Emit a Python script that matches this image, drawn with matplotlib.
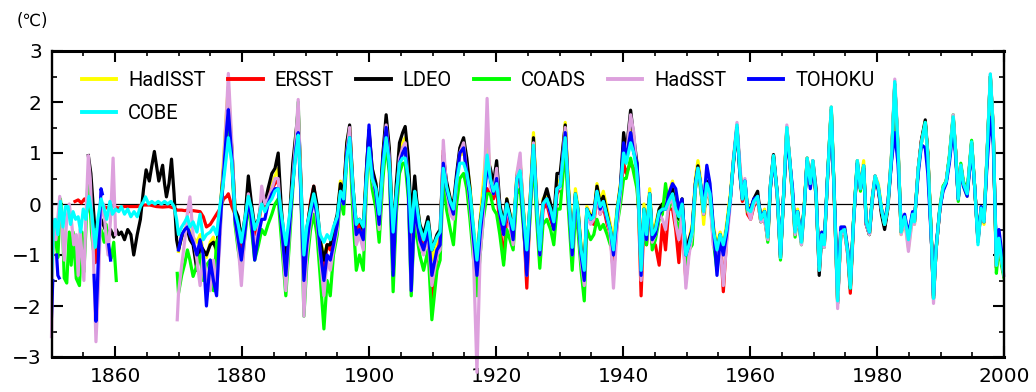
import matplotlib
matplotlib.use("Agg")
import matplotlib.pyplot as plt
from matplotlib.ticker import MultipleLocator, FixedLocator
from matplotlib.font_manager import FontProperties

nan = float("nan")

# ---------------- data ----------------
years_common = [
    1870.0, 1870.5, 1871.0, 1871.4, 1871.8, 1872.3, 1872.9, 1873.4, 1873.9, 1874.4, 1875.0, 1875.5, 1876.0, 1876.5, 1877.1, 1877.6, 1877.85, 1878.4, 1878.9, 1879.4, 1879.9,
    1880.5, 1881.0, 1881.5, 1882.0, 1882.6, 1883.1, 1883.6, 1884.1, 1884.7, 1885.2, 1885.7, 1886.2, 1886.9, 1887.5, 1888.0, 1888.5, 1888.85, 1889.3, 1889.75,
    1890.2, 1890.8, 1891.3, 1891.8, 1892.3, 1892.9, 1893.4, 1893.9, 1894.4, 1895.0, 1895.5, 1896.0, 1896.5, 1896.95, 1897.5, 1898.0, 1898.5, 1899.1, 1899.6,
    1900.0, 1900.5, 1901.1, 1901.6, 1902.2, 1902.7, 1903.2, 1903.8, 1904.3, 1904.8, 1905.3, 1905.7, 1906.2, 1906.65, 1907.2, 1907.5, 1908.0, 1908.6, 1909.3, 1909.9,
    1910.7, 1911.2, 1911.7, 1912.2, 1912.8, 1913.3, 1913.8, 1914.3, 1914.9, 1915.4, 1915.9, 1916.4, 1917.0, 1917.5, 1918.0, 1918.6, 1919.1, 1919.6,
    1920.1, 1920.6, 1921.2, 1921.7, 1922.2, 1922.7, 1923.3, 1923.8, 1924.4, 1924.85, 1925.3, 1925.9, 1926.4, 1926.9, 1927.4, 1928.0, 1928.6, 1929.1, 1929.6,
    1930.1, 1930.9, 1931.4, 1932.0, 1932.5, 1932.9, 1933.4, 1933.9, 1934.3, 1934.9, 1935.4, 1935.9, 1936.4, 1936.9, 1937.5, 1938.0, 1938.5, 1939.1, 1939.6,
    1940.1, 1940.5, 1941.2, 1941.7, 1942.2, 1942.45, 1942.85, 1943.3, 1943.7, 1944.2, 1944.6, 1945.1, 1945.7, 1946.2, 1946.7, 1947.2, 1947.8, 1948.3, 1948.8, 1949.3, 1949.9,
    1950.4, 1950.9, 1951.4, 1951.8, 1952.2, 1952.7, 1953.2, 1953.7, 1954.2, 1954.8, 1955.3, 1955.8, 1956.3, 1956.9, 1957.4, 1957.95, 1958.4, 1958.8, 1959.2, 1959.6,
    1960.1, 1960.6, 1961.2, 1961.7, 1962.3, 1962.8, 1963.2, 1963.7, 1964.3, 1964.8, 1965.3, 1965.8, 1966.2, 1966.7, 1967.1, 1967.5, 1968.1, 1968.6, 1969.0, 1969.5, 1969.9,
    1970.4, 1970.9, 1971.3, 1971.7, 1972.2, 1972.8, 1973.3, 1973.8, 1974.3, 1974.9, 1975.4, 1975.8, 1976.3, 1976.9, 1977.4, 1977.9, 1978.3, 1978.8, 1979.3, 1979.7,
    1980.2, 1980.7, 1981.2, 1981.7, 1982.3, 1982.8, 1983.3, 1983.8, 1984.35, 1984.95, 1985.6, 1985.9, 1986.5, 1987.0, 1987.6, 1988.0, 1988.6, 1988.9, 1989.3, 1989.9,
    1990.4, 1990.9, 1991.4, 1992.0, 1992.4, 1992.8, 1993.2, 1993.6, 1994.2, 1994.9, 1995.4, 1995.9, 1996.4, 1996.85, 1997.3, 1997.85, 1998.3, 1998.8, 1999.2, 1999.6, 2000.0,
]

hadisst = [
    -0.93, -0.6, -0.5, -0.4, -0.55, -0.65, -0.75, -0.6, -0.95, -1.05, -0.75, -0.65, -1.0, -0.3, 0.9, 1.9, 2.3, 1.1, -0.1, -0.5, -0.9,
    -0.3, 0.4, -0.1, -0.6, -0.4, 0.0, -0.05, 0.25, 0.4, 0.55, 0.7, -0.2, -1.1, -0.3, 0.6, 1.35, 1.8, 0.3, -1.6,
    -0.6, 0.0, 0.2, -0.1, -0.7, -1.0, -0.8, -0.9, -0.6, -0.3, 0.45, 0.2, 1.2, 1.5, 0.3, -0.45, -0.3, -0.5, 0.7,
    1.4, 0.7, 0.35, -0.2, 1.0, 1.6, 1.0, -0.8, 0.3, 1.1, 1.2, 1.3, 0.7, -0.55, 0.35, 0.05, -0.4, -0.75, -0.3, -1.1,
    -0.75, -0.6, 0.9, 0.4, 0.1, -0.1, 0.5, 0.95, 1.0, 0.8, 0.35, -0.4, -1.1, -0.3, 0.4, 1.32, 0.6, 0.3,
    0.6, -0.1, -0.5, 0.1, -0.2, -0.55, 0.6, 0.85, -0.2, -1.0, -0.1, 1.4, 0.1, -0.9, 0.1, 0.2, -0.05, -0.3, 0.45,
    0.45, 1.6, 0.4, -0.8, 0.3, -0.05, -0.8, -1.2, -0.05, -0.2, -0.2, 0.4, 0.05, 0.25, -0.1, -0.4, -0.7, -0.05, 0.4,
    0.9, 0.8, 1.45, 1.2, 0.7, 0.2, -1.3, 0.0, -0.5, 0.3, -0.5, -0.4, -0.1, 0.0, 0.0, 0.2, 0.45, 0.0, -0.2, 0.1, -1.0,
    -0.7, -0.4, 0.5, 0.85, 0.5, -0.4, 0.35, 0.3, -0.4, -0.8, -0.55, -0.8, -0.4, 0.2, 0.9, 1.5, 0.7, 0.2, 0.4, 0.0,
    -0.1, 0.1, 0.15, -0.25, -0.1, -0.6, 0.35, 0.95, 0.2, -1.0, 0.2, 1.45, 0.95, 0.2, -0.5, -0.1, -0.7, 0.1, 0.9, 0.4, 0.8,
    0.2, -1.25, -0.55, -0.75, 0.5, 1.85, 0.1, -1.85, -0.5, -0.45, -0.9, -1.6, -0.3, 0.85, 0.35, 0.85, -0.3, -0.5, 0.2, 0.55,
    0.4, -0.05, -0.35, 0.0, 0.95, 2.25, 1.2, -0.6, -0.3, -0.85, -0.25, -0.4, 0.65, 1.2, 1.55, 1.0, -0.75, -1.8, -0.9, -0.1,
    0.3, 0.45, 0.9, 1.7, 1.0, 0.15, 0.7, 0.35, 0.15, 1.2, 0.3, -0.7, -0.1, -0.4, 0.8, 2.45, 1.4, -1.2, -0.8, -1.1, -1.4,
]

ersst_early_years = [1853.7, 1854.2, 1854.7, 1855.2, 1855.7, 1856.2, 1856.6, 1856.9, 1857.3, 1857.7, 1858.2, 1858.8,
                     1859.5, 1860.5, 1861.5, 1862.5, 1863.5, 1864.5, 1865.5, 1866.5, 1867.5, 1868.5, 1869.3, 1869.8]
ersst_early = [0.05, 0.08, 0.02, 0.1, 0.0, -0.2, -0.6, -1.15, -0.7, -0.15, -0.05, -0.08,
               -0.03, -0.08, -0.05, -0.05, -0.05, -0.02, -0.02, -0.05, -0.06, -0.05, -0.08, -0.12]
ersst = [
    -0.12, -0.12, -0.13, -0.12, -0.15, -0.13, -0.14, -0.15, -0.25, -0.45, -0.4, -0.3, -0.2, -0.1, 0.1, 0.15, 0.2, -0.05, -0.2, -0.5, -0.9,
    -0.35, 0.3, -0.15, -0.6, -0.4, 0.05, -0.1, 0.2, 0.3, 0.4, 0.5, -0.5, -1.3, -0.35, 0.5, 1.2, 1.6, 0.2, -1.5,
    -0.6, 0.05, 0.35, -0.1, -0.8, -1.3, -0.8, -0.9, -0.7, -0.3, 0.3, 0.1, 1.1, 1.4, 0.2, -0.5, -0.4, -0.6, 0.6,
    1.4, 0.6, 0.25, -0.35, 0.8, 1.5, 0.9, -1.0, 0.1, 0.9, 1.1, 1.1, 0.5, -1.0, 0.2, 0.0, -0.6, -0.9, -0.5, -1.9,
    -1.0, -0.7, 1.05, 0.3, 0.0, -0.2, 0.5, 1.0, 1.15, 0.6, 0.1, -0.7, -1.5, -0.6, -0.1, 0.3, 0.2, 0.1,
    0.3, -0.4, -1.1, -0.2, -0.4, -0.8, 0.4, 0.7, -0.5, -1.65, -0.3, 1.1, -0.1, -1.1, -0.1, 0.0, -0.3, -0.5, 0.2,
    0.3, 1.4, 0.1, -1.0, 0.1, -0.2, -1.0, -1.4, -0.2, -0.35, -0.4, 0.2, -0.2, -0.05, -0.4, -0.6, -1.4, -0.3, 0.2,
    0.8, 0.6, 0.8, 0.7, 0.4, -0.1, -1.8, -0.3, -0.8, 0.0, -0.8, -0.8, -1.2, -0.4, -0.9, -0.1, -0.1, -0.5, -1.15, -0.3, -1.5,
    -0.9, -0.6, 0.3, 0.7, 0.35, -0.2, 0.3, 0.1, -0.6, -0.9, -0.7, -1.72, -0.7, 0.1, 0.85, 1.55, 0.6, 0.05, 0.4, -0.2,
    -0.3, -0.05, 0.1, -0.35, -0.3, -0.7, 0.3, 0.95, 0.15, -1.05, 0.15, 1.5, 0.9, 0.15, -0.6, -0.2, -0.75, 0.05, 0.9, 0.4, 0.8,
    0.15, -1.3, -0.6, -0.8, 0.45, 1.85, 0.0, -1.9, -0.6, -0.55, -1.0, -1.75, -0.4, 0.8, 0.3, 0.7, -0.4, -0.6, 0.1, 0.5,
    0.3, -0.15, -0.45, -0.05, 0.95, 2.35, 1.1, -0.55, -0.25, -0.75, -0.2, -0.35, 0.7, 1.25, 1.6, 0.95, -0.8, -1.85, -0.9, -0.1,
    0.3, 0.44, 0.9, 1.7, 1.0, 0.1, 0.75, 0.4, 0.2, 1.2, 0.3, -0.7, -0.1, -0.35, 0.85, 2.5, 1.5, -1.25, -0.7, -1.1, -1.4,
]

ldeo_early_years = [1855.8, 1856.2, 1856.6, 1857.0, 1857.4, 1857.8, 1858.3, 1858.8, 1859.3, 1859.8, 1860.2, 1860.6,
                    1861.0, 1861.5, 1862.0, 1862.5, 1862.95, 1863.5, 1864.0, 1864.5, 1864.9, 1865.4, 1865.8, 1866.2,
                    1866.6, 1866.9, 1867.5, 1867.8, 1868.1, 1868.5, 1868.9, 1869.3, 1869.7]
ldeo_early = [0.95, 0.6, -0.1, -0.75, -0.5, -0.3, -0.45, -0.6, -0.5, -0.65, -0.5, -0.6,
              -0.55, -0.7, -0.5, -0.6, -1.0, -0.6, -0.3, 0.3, 0.67, 0.45, 0.75, 1.03,
              0.7, 0.45, 0.76, 0.4, 0.14, 0.4, 0.88, 0.2, -0.7]
ldeo = [
    -0.9, -0.65, -0.55, -0.5, -0.7, -0.8, -1.3, -0.8, -0.9, -1.0, -0.8, -0.75, -0.9, -0.2, 0.7, 1.6, 1.9, 1.1, -0.1, -0.25, -0.7,
    -0.25, 0.55, 0.0, -0.45, -0.3, 0.1, 0.0, 0.3, 0.6, 0.7, 1.0, -0.1, -1.1, -0.25, 0.8, 1.4, 1.85, 0.4, -1.3,
    -0.5, 0.0, 0.35, 0.0, -0.7, -1.1, -0.8, -0.8, -0.5, -0.2, 0.4, 0.2, 1.2, 1.55, 0.3, -0.4, -0.3, -0.5, 0.7,
    1.45, 0.7, 0.4, -0.2, 1.0, 1.75, 1.1, -0.7, 0.4, 1.2, 1.4, 1.52, 0.9, -0.3, 0.55, 0.1, -0.4, -0.6, -0.25, -0.9,
    -0.6, -0.5, 0.95, 0.45, 0.1, 0.0, 0.6, 1.1, 1.3, 0.9, 0.3, -0.5, -1.3, -0.35, 0.1, 0.9, 0.7, 0.4,
    0.85, 0.0, -0.4, 0.1, -0.2, -0.6, 0.55, 0.8, -0.3, -1.0, -0.1, 1.3, 0.05, -0.9, 0.05, 0.3, 0.0, -0.3, 0.6,
    0.6, 1.55, 0.3, -0.9, 0.2, -0.1, -0.9, -1.3, -0.1, -0.25, -0.2, 0.35, 0.0, 0.15, -0.2, -0.5, -1.0, -0.1, 0.35,
    1.4, 1.0, 1.84, 1.3, 0.8, 0.1, -1.3, -0.1, -0.6, 0.2, -0.6, -0.5, -0.1, 0.0, -0.1, 0.1, 0.3, -0.1, -0.3, 0.1, -1.0,
    -0.7, -0.5, 0.4, 0.75, 0.4, -0.1, 0.45, 0.25, -0.5, -0.9, -0.6, -0.9, -0.5, 0.1, 0.8, 1.5, 0.7, 0.1, 0.45, -0.1,
    -0.1, 0.1, 0.25, -0.3, -0.15, -0.65, 0.35, 0.97, 0.2, -1.05, 0.2, 1.45, 0.95, 0.2, -0.55, -0.15, -0.75, 0.05, 0.85, 0.5, 0.85,
    0.3, -1.4, -0.6, -0.8, 0.5, 1.85, 0.05, -1.95, -0.55, -0.5, -0.95, -1.65, -0.35, 0.8, 0.3, 0.75, -0.4, -0.6, 0.15, 0.55,
    0.3, -0.2, -0.5, -0.1, 0.9, 2.35, 1.1, -0.55, -0.3, -0.7, -0.2, -0.35, 0.7, 1.25, 1.65, 1.0, -0.8, -1.85, -0.9, -0.1,
    0.3, 0.44, 0.9, 1.7, 1.0, 0.1, 0.76, 0.4, 0.2, 1.2, 0.3, -0.74, -0.1, -0.35, 0.85, 2.5, 1.45, -1.2, -0.7, -1.1, -1.4,
]

coads_early_years = [1850.0, 1850.3, 1850.7, 1851.0, 1851.4, 1851.7, 1852.0, 1852.4, 1852.8, 1853.1, 1853.4, 1853.9,
                     1854.4, 1854.8, 1855.1, 1855.4, 1855.7, 1856.0, 1856.3, 1856.6, 1857.0, 1857.4, 1857.8, 1858.3,
                     1858.6, 1858.9, 1859.4, 1859.8, 1860.2, 1860.3, 1869.8]
coads_early = [-1.55, -0.55, -0.75, -1.05, 0.1, -0.25, -1.45, -1.55, -0.55, -1.2, -0.55, -1.46,
               -1.6, -0.55, -1.33, -0.55, 0.37, 0.2, -0.55, -0.9, -0.5, -0.6, -0.5, -0.75,
               -0.4, -0.8, -1.07, -0.75, -1.5, nan, -1.36]
coads = [
    -1.75, -1.4, -1.16, -0.9, -1.1, -1.42, -1.2, -1.0, -1.5, -1.2, -1.1, -1.7, -0.75, -0.6, 0.6, 1.5, 1.75, 0.8, -0.4, -0.9, -1.3,
    -0.6, 0.0, -0.5, -1.1, -0.8, -0.5, -0.6, -0.4, -0.2, 0.0, 0.1, -0.7, -1.8, -0.7, 0.3, 1.2, 2.0, 0.1, -2.2,
    -1.2, -0.5, -0.2, -0.6, -1.4, -2.45, -1.5, -1.8, -1.0, -0.6, 0.1, -0.2, 0.9, 1.2, -0.3, -1.3, -1.0, -1.3, 0.3,
    1.2, 0.3, -0.1, -0.75, 0.5, 1.2, 0.6, -1.72, -0.2, 0.6, 0.8, 0.8, 0.1, -1.8, -0.2, -0.6, -1.0, -1.3, -0.9, -2.27,
    -1.3, -1.1, 0.5, -0.1, -0.5, -0.8, 0.0, 0.5, 0.6, 0.3, -0.3, -1.0, -1.8, -1.0, -0.3, 0.2, 0.2, -0.1,
    -0.2, -0.6, -1.2, -0.5, -0.7, -0.9, 0.2, 0.3, -0.6, -1.2, -0.4, 0.95, -0.3, -1.26, -0.4, -0.3, -0.5, -0.8, -0.1,
    -0.1, 1.1, -0.1, -1.3, -0.2, -0.5, -1.3, -1.9, -0.5, -0.7, -0.6, -0.3, -0.5, -0.4, -0.6, -0.8, -0.8, -0.4, 0.0,
    0.5, 0.5, 0.9, 0.6, 0.3, -0.1, -1.4, -0.3, -0.8, 0.1, -0.9, -0.7, -0.3, -0.2, 0.4, -0.1, 0.1, -0.3, -0.5, -0.1, -1.2,
    -0.9, -0.8, 0.3, 0.7, 0.3, -0.2, 0.3, 0.1, -0.7, -1.3, -0.7, -0.9, -0.6, 0.1, 0.85, 1.5, 0.6, 0.1, 0.4, -0.15,
    -0.2, 0.0, 0.1, -0.35, -0.2, -0.75, 0.3, 0.9, 0.15, -1.1, 0.2, 1.5, 0.9, 0.15, -0.65, -0.2, -0.8, 0.0, 0.9, 0.35, 0.8,
    0.15, -1.25, -0.6, -0.85, 0.5, 1.9, 0.05, -1.9, -0.55, -0.55, -0.95, -1.65, -0.35, 0.85, 0.25, 0.75, -0.35, -0.6, 0.15, 0.5,
    0.35, -0.1, -0.4, -0.05, 1.0, 2.35, 1.15, -0.55, -0.25, -0.7, -0.2, -0.35, 0.7, 1.2, 1.6, 0.95, -0.8, -1.85, -0.9, -0.05,
    0.35, 0.45, 0.95, 1.75, 1.0, 0.05, 0.8, 0.45, 0.25, 1.25, 0.3, -0.7, -0.05, -0.3, 0.9, 2.5, 1.5, -1.36, -0.8, -1.2, -1.45,
]

hadsst_early_years = [1850.0, 1850.3, 1850.7, 1851.3, 1851.7, 1852.0, 1852.4, 1852.8, 1853.2, 1853.5, 1853.9, 1854.2,
                      1854.5, 1855.1, 1855.4, 1855.8, 1856.1, 1856.6, 1857.0, 1857.4, 1857.7, 1858.2, 1858.5, 1858.9,
                      1859.3, 1859.7, 1860.1, 1860.2, 1869.8]
hadsst_early = [-2.6, -0.3, -0.7, 0.15, -0.5, -1.1, -0.3, 0.0, -0.4, -0.8, -0.6, -1.4,
                -0.5, -1.5, -0.3, 0.95, 0.5, -1.0, -2.7, -1.6, -0.3, 0.0, -0.5, -1.0,
                -0.3, 0.9, -0.6, nan, -2.27]
hadsst = [
    -1.75, -1.2, -0.7, -0.18, 0.14, -0.6, -1.1, -1.6, -1.0, -1.4, -1.7, -1.1, -1.7, -0.8, 0.8, 1.9, 2.56, 1.2, -0.3, -0.8, -1.6,
    -0.5, 0.2, -0.4, -0.8, -0.5, 0.35, 0.0, 0.1, 0.3, 0.5, 0.5, -0.4, -1.7, -0.5, 0.5, 1.3, 2.05, 0.2, -2.2,
    -1.0, -0.3, 0.1, -0.3, -1.0, -1.8, -1.1, -1.3, -0.9, -0.5, 0.2, 0.0, 1.0, 1.5, 0.1, -0.8, -0.6, -0.9, 0.5,
    1.3, 0.5, 0.2, -0.5, 0.8, 1.55, 0.9, -1.3, 0.1, 0.9, 1.1, 1.2, 0.4, -1.7, 0.1, -0.3, -0.8, -1.0, -0.6, -1.6,
    -1.0, -0.9, 1.25, 0.3, -0.2, -0.3, 0.4, 1.0, 1.2, 0.6, 0.0, -0.8, -3.3, -1.0, -0.3, 2.07, 0.3, 0.2,
    0.7, -0.2, -0.6, 0.0, -0.4, -0.8, 0.6, 1.0, -0.4, -1.4, -0.2, 1.2, 0.0, -1.0, 0.0, 0.1, -0.2, -0.4, 0.3,
    0.3, 1.5, 0.2, -1.0, 0.1, -0.2, -1.1, -1.6, -0.2, -0.4, -0.3, 0.2, -0.2, 0.0, -0.3, -0.6, -1.65, -0.4, 0.2,
    1.1, 0.9, 1.75, 1.4, 0.6, 0.0, -1.5, -0.2, -0.7, 0.15, -0.75, -0.6, -0.2, -0.3, -0.5, 0.0, 0.1, -0.4, -0.7, -0.2, -1.65,
    -1.0, -0.6, 0.3, 0.7, 0.4, -0.2, 0.3, 0.1, -0.8, -1.0, -0.8, -1.6, -0.8, 0.0, 0.9, 1.6, 0.8, 0.1, 0.5, -0.1,
    -0.3, 0.0, 0.1, -0.35, -0.3, -0.7, 0.35, 0.9, 0.15, -1.05, 0.2, 1.55, 0.95, 0.2, -0.6, -0.2, -0.8, 0.0, 0.9, 0.4, 0.85,
    0.2, -1.3, -0.65, -0.85, 0.45, 1.9, 0.0, -2.05, -0.6, -0.55, -1.0, -1.6, -0.4, 0.85, 0.3, 0.75, -0.4, -0.6, 0.15, 0.55,
    0.35, -0.1, -0.4, -0.05, 1.0, 2.45, 1.2, -0.6, -0.3, -0.93, -0.25, -0.4, 0.7, 1.2, 1.55, 0.95, -0.85, -1.95, -0.9, -0.1,
    0.3, 0.44, 0.9, 1.75, 1.0, 0.1, 0.76, 0.4, 0.2, 1.2, 0.3, -0.74, -0.1, -0.35, 0.85, 2.55, 1.5, -1.2, -0.7, -1.1, -1.4,
]

tohoku_early_years = [1850.0, 1850.2, 1850.3, 1850.8, 1851.0, 1851.2, 1851.3, 1856.7, 1857.0, 1857.2, 1857.5,
                      1857.8, 1858.0, 1858.1, 1859.0, 1859.3, 1859.4]
tohoku_early = [-2.2, -1.5, nan, -1.0, -1.4, -1.45, nan, -1.4, -2.3, -1.7, -0.6,
                0.3, 0.2, nan, -0.8, -1.1, nan]
tohoku = [
    -0.9, -0.6, -0.5, -0.45, -0.6, -0.75, -1.0, -0.7, -1.0, -2.0, -1.1, -1.5, -1.8, -0.5, 0.6, 1.5, 1.85, 0.9, -0.3, -0.7, -1.1,
    -0.5, 0.1, -0.3, -1.1, -0.6, -0.3, -0.3, 0.0, 0.2, 0.3, 0.3, -0.4, -1.4, -0.4, 0.4, 1.1, 1.4, 0.1, -1.5,
    -0.8, -0.2, 0.1, -0.2, -0.9, -1.5, -1.0, -1.1, -0.8, -0.4, 0.2, 0.0, 1.0, 1.3, 0.2, -0.6, -0.5, -0.7, 0.6,
    1.55, 0.6, 0.2, -0.4, 0.9, 1.5, 0.8, -1.4, 0.1, 0.8, 1.0, 1.1, 0.3, -1.7, 0.0, -0.3, -0.7, -0.9, -0.5, -1.4,
    -0.9, -0.8, 0.8, 0.3, 0.0, -0.2, 0.5, 1.0, 1.1, 0.6, 0.1, -0.6, -1.4, -0.6, 0.0, 0.7, 0.5, 0.2,
    0.5, -0.2, -0.6, 0.0, -0.3, -0.7, 0.5, 0.6, -0.5, -1.4, -0.2, 1.1, 0.0, -1.0, 0.0, 0.1, -0.2, -0.5, 0.3,
    0.35, 1.4, 0.2, -1.0, 0.15, -0.2, -1.0, -1.5, -0.1, -0.3, -0.2, 0.25, -0.1, 0.05, -0.3, -0.5, -1.0, -0.2, 0.3,
    1.2, 0.9, 1.4, 1.0, 0.8, 0.3, -1.4, -0.2, -0.7, 0.2, -0.7, -0.6, -0.2, -0.1, -0.1, 0.2, 0.4, 0.3, -0.1, 0.1, -1.0,
    -0.8, -0.5, 0.4, 0.7, 0.4, 0.0, 0.76, 0.4, -0.4, -1.4, -0.7, -1.0, -0.6, 0.1, 0.85, 1.5, 0.6, 0.1, 0.45, -0.1,
    -0.1, 0.1, 0.15, -0.25, -0.15, -0.6, 0.3, 0.9, 0.2, -1.0, 0.2, 1.3, 0.9, 0.3, -0.5, -0.15, -0.7, 0.05, 0.85, 0.3, 0.75,
    0.2, -1.2, -0.55, -0.75, 0.5, 1.7, 0.1, -1.7, -0.45, -0.45, -0.9, -1.55, -0.35, 0.8, 0.3, 0.7, -0.35, -0.55, 0.15, 0.5,
    0.3, -0.1, -0.35, 0.0, 0.85, 1.4, 0.8, -0.4, -0.2, -0.6, -0.15, -0.3, 0.6, 1.16, 1.1, 0.6, -0.8, -1.8, -0.85, -0.1,
    0.25, 0.4, 0.8, 1.5, 0.9, 0.1, 0.7, 0.35, 0.15, 1.1, 0.3, -0.7, -0.05, -0.3, 0.7, 1.7, 1.2, -1.0, -0.5, -0.9, -1.2,
]

cobe_early_years = [1850.0, 1850.3, 1850.6, 1851.0, 1851.4, 1851.8, 1852.2, 1852.6, 1853.0, 1853.4, 1853.8, 1854.2,
                    1854.6, 1855.0, 1855.4, 1855.9, 1856.3, 1856.9, 1857.3, 1857.8, 1858.3, 1858.7, 1859.2, 1859.6,
                    1860.1, 1860.6, 1861.0, 1861.5, 1862.0, 1862.5, 1863.0, 1863.5, 1864.0, 1864.5, 1864.8, 1865.3,
                    1865.8, 1866.3, 1866.8, 1867.3, 1867.8, 1868.3, 1868.8, 1869.3, 1869.7]
cobe_early = [-1.5, -0.4, -0.3, -0.6, 0.05, -0.45, -0.05, -0.05, -0.4, -0.15, -0.3, -0.25,
              -0.55, -0.1, -0.3, 0.15, -0.15, -0.85, -0.3, 0.1, -0.1, -0.3, 0.05, -0.2,
              -0.1, -0.15, -0.05, -0.2, -0.1, -0.25, -0.15, -0.25, -0.05, 0.05, 0.14, 0.0,
              0.05, 0.0, 0.05, 0.0, 0.05, 0.0, 0.05, -0.05, -0.3]
cobe = [
    -0.6, -0.45, -0.35, -0.25, -0.45, -0.35, -0.55, -0.2, -0.7, -0.6, -0.55, -0.45, -0.6, -0.05, 0.45, 1.0, 1.3, 0.8, -0.15, -0.4, -0.75,
    -0.25, 0.15, -0.1, -0.5, -0.3, 0.0, -0.15, 0.0, 0.1, 0.25, 0.3, -0.2, -0.8, -0.2, 0.4, 1.0, 1.35, 0.3, -1.0,
    -0.45, -0.1, 0.2, -0.1, -0.6, -0.75, -0.6, -0.7, -0.45, -0.25, 0.25, 0.1, 0.9, 1.3, 0.3, -0.4, -0.3, -0.45, 0.5,
    1.1, 0.5, 0.3, -0.2, 0.75, 1.3, 0.8, -0.55, 0.2, 0.8, 0.9, 0.9, 0.5, -0.55, 0.25, 0.0, -0.45, -0.7, -0.35, -0.9,
    -0.65, -0.55, 0.7, 0.35, 0.05, -0.1, 0.45, 0.8, 0.8, 0.6, 0.25, -0.4, -1.1, -0.4, 0.1, 0.96, 0.5, 0.25,
    0.4, -0.1, -0.4, 0.0, -0.25, -0.5, 0.5, 0.65, -0.3, -0.9, -0.1, 1.15, 0.0, -0.9, 0.0, 0.1, -0.1, -0.35, 0.3,
    0.35, 1.3, 0.25, -0.85, 0.2, -0.1, -0.9, -1.3, -0.1, -0.3, -0.25, 0.25, -0.05, 0.05, -0.25, -0.5, -0.9, -0.1, 0.3,
    1.0, 0.8, 1.2, 1.0, 0.6, 0.1, -1.3, -0.1, -0.6, 0.2, -0.6, -0.5, -0.15, -0.1, -0.1, 0.05, 0.2, -0.1, -0.25, 0.0, -1.0,
    -0.8, -0.55, 0.35, 0.7, 0.4, -0.15, 0.4, 0.2, -0.5, -0.9, -0.6, -0.8, -0.5, 0.1, 0.85, 1.55, 0.65, 0.1, 0.45, -0.1,
    -0.15, 0.05, 0.15, -0.3, -0.15, -0.65, 0.35, 0.95, 0.2, -1.05, 0.2, 1.5, 0.95, 0.2, -0.55, -0.15, -0.75, 0.05, 0.9, 0.4, 0.85,
    0.2, -1.3, -0.6, -0.8, 0.5, 1.9, 0.05, -1.9, -0.55, -0.5, -0.95, -1.65, -0.35, 0.85, 0.3, 0.75, -0.35, -0.55, 0.15, 0.55,
    0.35, -0.1, -0.4, -0.05, 0.95, 2.4, 1.15, -0.55, -0.25, -0.7, -0.2, -0.35, 0.7, 1.2, 1.6, 0.95, -0.8, -1.85, -0.9, -0.08,
    0.31, 0.44, 0.9, 1.71, 1.0, 0.1, 0.76, 0.4, 0.2, 1.22, 0.31, -0.8, -0.08, -0.35, 0.85, 2.55, 1.48, -1.2, -0.67, -1.07, -1.39,
]

series_names = ["HadISST", "ERSST", "LDEO", "COADS", "HadSST", "TOHOKU", "COBE"]
series_colors = ["#ffff00", "#ff0000", "#000000", "#00ff00", "#dda0dd", "#0000ff", "#00ffff"]
x_tick_labels = ["1860", "1880", "1900", "1920", "1940", "1960", "1980", "2000"]
y_tick_labels = ["\u22123", "\u22122", "\u22121", "0", "1", "2", "3"]

early_parts = {
    "HadISST": ([], []),
    "ERSST": (ersst_early_years, ersst_early),
    "LDEO": (ldeo_early_years, ldeo_early),
    "COADS": (coads_early_years, coads_early),
    "HadSST": (hadsst_early_years, hadsst_early),
    "TOHOKU": (tohoku_early_years, tohoku_early),
    "COBE": (cobe_early_years, cobe_early),
}
late_parts = {"HadISST": hadisst, "ERSST": ersst, "LDEO": ldeo, "COADS": coads,
              "HadSST": hadsst, "TOHOKU": tohoku, "COBE": cobe}

for nm, vals in late_parts.items():
    if len(vals) != len(years_common):
        raise ValueError(f"{nm}: {len(vals)} values vs {len(years_common)} years")
for nm, (ey, ev) in early_parts.items():
    if len(ey) != len(ev):
        raise ValueError(f"{nm} early: {len(ey)} vs {len(ev)}")

# ---------------- figure ----------------
fig = plt.figure(figsize=(10.36, 3.92), dpi=100)
ax = fig.add_axes([51.5 / 1036, 35 / 392, 952.5 / 1036, 306 / 392])

ax.axhline(0, color="black", lw=0.9, zorder=1)

handles = {}
for nm, col in zip(series_names, series_colors):
    ey, ev = early_parts[nm]
    xs = list(ey) + years_common
    ys = list(ev) + late_parts[nm]
    (ln,) = ax.plot(xs, ys, color=col, lw=2.3, label=nm, zorder=2,
                    solid_joinstyle="round", clip_on=(nm != "HadSST"))
    handles[nm] = ln

ax.set_xlim(1850, 2000)
ax.set_ylim(-3, 3)
ax.xaxis.set_major_locator(FixedLocator([1860, 1880, 1900, 1920, 1940, 1960, 1980, 2000]))
ax.set_xticklabels(x_tick_labels)
ax.xaxis.set_minor_locator(MultipleLocator(5))
ax.yaxis.set_major_locator(FixedLocator([-3, -2, -1, 0, 1, 2, 3]))
ax.set_yticklabels(y_tick_labels)
ax.yaxis.set_minor_locator(MultipleLocator(0.5))

ax.tick_params(which="both", direction="in", top=True, right=True, colors="black")
ax.tick_params(which="major", length=8, width=1.5, labelsize=14.5, pad=7)
ax.tick_params(which="minor", length=3.8, width=1.2)
for lab in ax.get_xticklabels() + ax.get_yticklabels():
    lab.set_fontfamily("DejaVu Sans")

for side in ["top", "bottom"]:
    ax.spines[side].set_linewidth(2.2)
for side in ["left", "right"]:
    ax.spines[side].set_linewidth(1.7)

# legend: row 1 = first six series, row 2 = COBE under HadISST (column-major fill)
legend_order = ["HadISST", "COBE", "ERSST", "LDEO", "COADS", "HadSST", "TOHOKU"]
leg_font = FontProperties(family=["Liberation Sans Narrow", "Roboto", "DejaVu Sans"], size=14.5)
leg = ax.legend(handles=[handles[n] for n in legend_order], labels=legend_order, ncol=6,
                loc="upper left", bbox_to_anchor=(0.032, 0.935), frameon=False, prop=leg_font,
                handlelength=1.7, handletextpad=0.6, columnspacing=1.12,
                labelspacing=0.72, borderpad=0.0, borderaxespad=0.0)
for ln in leg.get_lines():
    ln.set_linewidth(2.8)

fig.text(32 / 1036, 1 - 21 / 392, "(\u2103)", ha="center", va="center", fontsize=12,
         family="DejaVu Sans")

fig.savefig("out.png", dpi=100)
